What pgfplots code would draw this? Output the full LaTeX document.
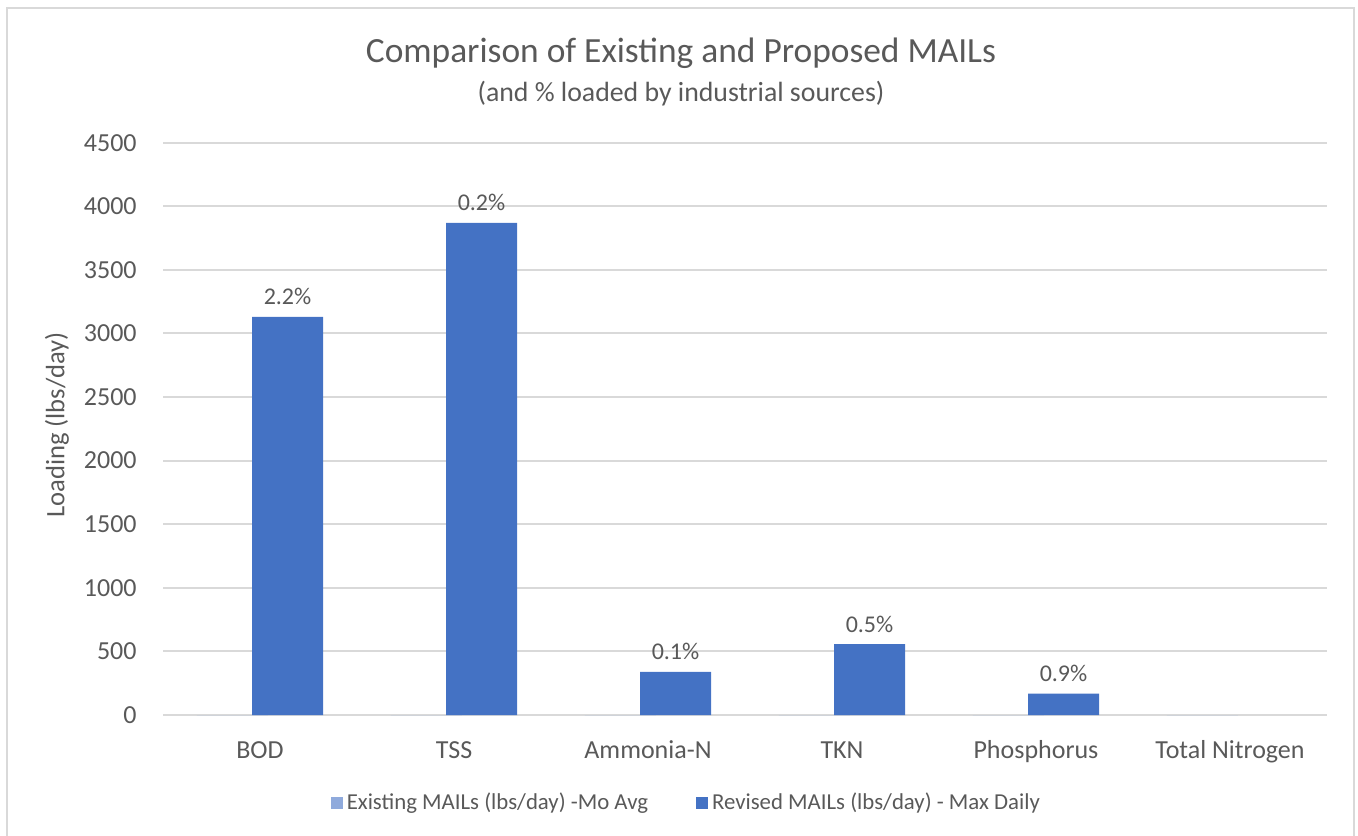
\documentclass[border=0pt]{standalone}
\usepackage{pgfplots}
\pgfplotsset{compat=1.18}
\usepackage{fontspec}
\setmainfont{Carlito}
\definecolor{revised}{HTML}{4472C4}
\definecolor{existing}{HTML}{8FAADC}
\definecolor{txt}{HTML}{595959}
\definecolor{gridc}{HTML}{D9D9D9}
\begin{document}
\begin{tikzpicture}
\path[use as bounding box] (0,0) rectangle (679pt,417.5pt);
\draw[gridc, line width=1pt] (3.5pt,-2pt) -- (3.5pt,413.5pt) -- (677pt,413.5pt) -- (677pt,-2pt);
\node[txt, font=\fontsize{17.7}{21}\selectfont] at (340.5pt,391pt) {Comparison of Existing and Proposed MAILs};
\node[txt, font=\fontsize{13.9}{16}\selectfont] at (340.5pt,370.5pt) {(and \% loaded by industrial sources)};
\node[txt, rotate=90, font=\fontsize{13.3}{15}\selectfont] at (28.5pt,205pt) {Loading (lbs/day)};
\begin{axis}[
    at={(81.5pt,60pt)}, anchor=south west,
    scale only axis,
    width=582pt, height=286.15pt,
    ymin=0, ymax=4500,
    ytick={0,500,...,4500},
    xmin=-0.5, xmax=5.5,
    xtick={0,...,5},
    xticklabels={BOD, TSS, Ammonia-N, TKN, Phosphorus, Total Nitrogen},
    ymajorgrids=true,
    grid style={gridc, line width=1pt},
    axis line style={draw=none},
    major tick length=0pt,
    tick label style={txt, font=\fontsize{13}{15}\selectfont},
    /pgf/number format/assume math mode=true,
    /pgf/number format/set thousands separator={},
    yticklabel style={anchor=east, inner sep=0pt, xshift=-13pt},
    xticklabel style={anchor=base, inner sep=0pt, yshift=-21.5pt},
    ybar, bar width=0.366,
    legend columns=2,
    legend style={draw=none, fill=none, at={(0.4505,-0.154)}, anchor=center,
        font=\fontsize{11.4}{13}\selectfont, text=txt,
        /tikz/every even column/.append style={column sep=22pt}},
    legend image code/.code={\fill[#1] (0pt,-3pt) rectangle (6pt,3pt);},
]
\addplot[fill=existing, draw=none, bar shift=-0.142] coordinates {(0,0) (1,0) (2,0) (3,0) (4,0) (5,0)};
\addlegendentry{Existing MAILs (lbs/day) -Mo Avg}
\addplot[fill=revised, draw=none, bar shift=0.142,
    nodes near coords, point meta=explicit symbolic,
    every node near coord/.append style={txt, anchor=base, inner sep=0pt, yshift=6pt, font=\fontsize{12}{14}\selectfont}]
    coordinates {(0,3130) [2.2\%] (1,3870) [0.2\%] (2,340) [0.1\%] (3,558) [0.5\%] (4,168) [0.9\%]};
\addlegendentry{Revised MAILs (lbs/day) - Max Daily}
\end{axis}
\end{tikzpicture}
\end{document}
